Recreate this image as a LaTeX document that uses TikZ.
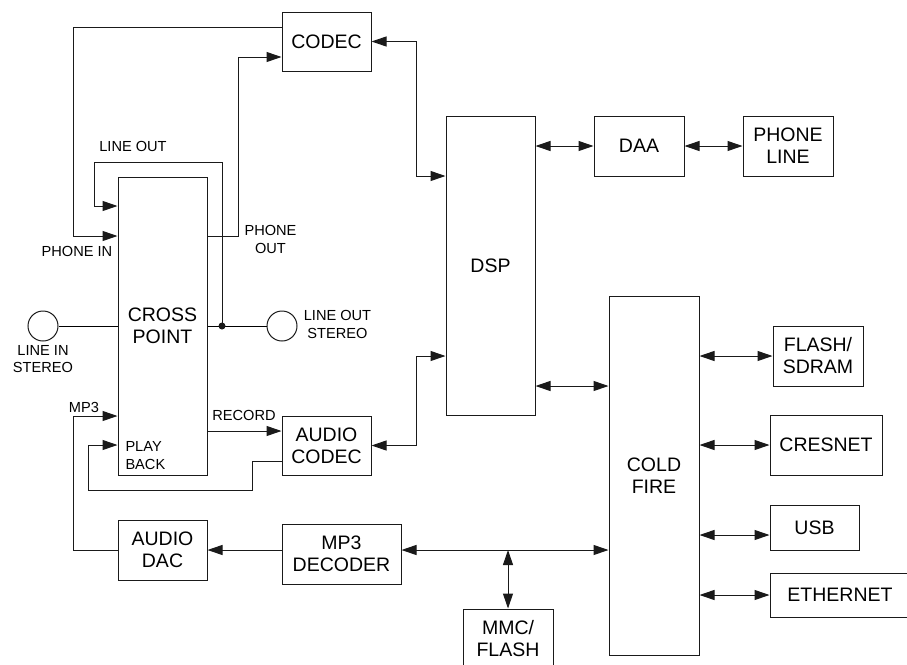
\documentclass[tikz,border=0pt]{standalone}
\usepackage{fontspec}
\setmainfont{Liberation Sans}
\setsansfont{Liberation Sans}
\usetikzlibrary{arrows.meta, positioning}
\definecolor{cline}{HTML}{1A1A1A}
\tikzset{
  every picture/.style={font=\sffamily, line width=1pt},
  box/.style={draw=cline, align=center, inner sep=2pt, minimum width=89pt, minimum height=60pt,
    font=\sffamily\fontsize{19.5}{22}\selectfont},
  arrow/.style={-{Triangle[length=15pt,width=10pt]}, draw=cline},
  biarrow/.style={{Triangle[length=15pt,width=10pt]}-{Triangle[length=15pt,width=10pt]}, draw=cline},
  note/.style={font=\sffamily\fontsize{14.6}{17.5}\selectfont, align=center, inner sep=0pt},
  jack/.style={draw=cline, circle, minimum size=30pt, inner sep=0pt},
}
\begin{document}
\begin{tikzpicture}[x=1pt, y=-1pt]
  \clip (0,0) rectangle (907,664);
  % blocks
  \node[box, minimum height=59pt] (codec) at (326.5,41.5) {CODEC};
  \node[box, minimum height=298pt] (cross) at (162.5,326) {CROSS\\POINT};
  \node[box, minimum height=59pt] (acodec) at (326.5,445.5) {AUDIO\\CODEC};
  \node[box] (adac) at (162.5,550) {AUDIO\\DAC};
  \node[box, minimum width=119pt] (mp3dec) at (341.5,554) {MP3\\DECODER};
  \node[box, minimum width=90pt] (mmc) at (508,639) {MMC/\\FLASH};
  \node[box, minimum height=299pt] (dsp) at (490.5,265.5) {DSP};
  \node[box, minimum width=90pt] (daa) at (639,146) {DAA};
  \node[box, minimum width=90pt] (phline) at (788,146) {PHONE\\LINE};
  \node[box, minimum width=90pt, minimum height=359pt] (cold) at (654,475.5) {COLD\\FIRE};
  \node[box, minimum width=90pt] (flash) at (818,356) {FLASH/\\SDRAM};
  \node[box, minimum width=112pt] (cresnet) at (826,445) {CRESNET};
  \node[box, minimum height=45pt] (usb) at (814.5,527.5) {USB};
  \node[box, minimum width=140pt, minimum height=44pt] (eth) at (840,595) {ETHERNET};
  % jacks
  \node[jack] (lin) at (43,326) {};
  \node[jack] (lout) at (282,326) {};
  \coordinate (jdot) at (222,326);
  \coordinate (bus) at (508,550);
  % labels
  \node[note] (lblineout) at (133,146) {LINE OUT};
  \node[note] (lbphonein) at (77,251) {PHONE IN};
  \node[note] (lbphoneout) at (270.5,239.5) {PHONE\\OUT};
  \node[note] (lbloutst) at (337.5,324.5) {LINE OUT\\STEREO};
  \node[note] (lblinst) at (43,359) {LINE IN\\STEREO};
  \node[note] (lbmp3) at (84,407) {MP3};
  \node[note] (lbrecord) at (244,415) {RECORD};
  \node[note, align=left, anchor=west] (lbplay) at (125,455.5) {PLAY\\BACK};
  % crosspoint wiring
  \draw[arrow] (codec.west |- 0,27) -| (73,236) -- (cross.west |- 0,236);
  \draw[arrow] (cross.east |- 0,236) -| (238,57) -- (codec.west |- 0,57);
  \draw[arrow] (jdot) |- (94,162) |- (cross.west |- 0,206);
  \draw (lin) -- (cross.west |- lin);
  \draw (cross.east |- lout) -- (lout);
  \fill[cline] (jdot) circle (3.5pt);
  \draw[arrow] (cross.east |- 0,431) -- (acodec.west |- 0,431);
  \draw[arrow] (acodec.west |- 0,461) -| (252,490) -| (88,445) -- (cross.west |- 0,445);
  \draw[arrow] (adac.west) -| (73,416) -- (cross.west |- 0,416);
  \draw[arrow] (mp3dec.west |- adac.east) -- (adac.east);
  % dsp and coldfire
  \draw[biarrow] (codec.east) -| (416,176) -- (dsp.west |- 0,176);
  \draw[biarrow] (acodec.east) -| (416,356) -- (dsp.west |- 0,356);
  \draw[biarrow] (dsp.east |- daa) -- (daa.west);
  \draw[biarrow] (daa) -- (phline);
  \draw[biarrow] (dsp.east |- 0,386) -- (cold.west |- 0,386);
  \draw[biarrow] (mp3dec.east |- bus) -- (cold.west |- bus);
  \draw[biarrow] (mmc.north) -- (bus);
  \draw[biarrow] (cold.east |- flash) -- (flash.west);
  \draw[biarrow] (cold.east |- cresnet) -- (cresnet.west);
  \draw[biarrow] (cold.east |- 0,535) -- (usb.west |- 0,535);
  \draw[biarrow] (cold.east |- eth) -- (eth.west);
\end{tikzpicture}
\end{document}
